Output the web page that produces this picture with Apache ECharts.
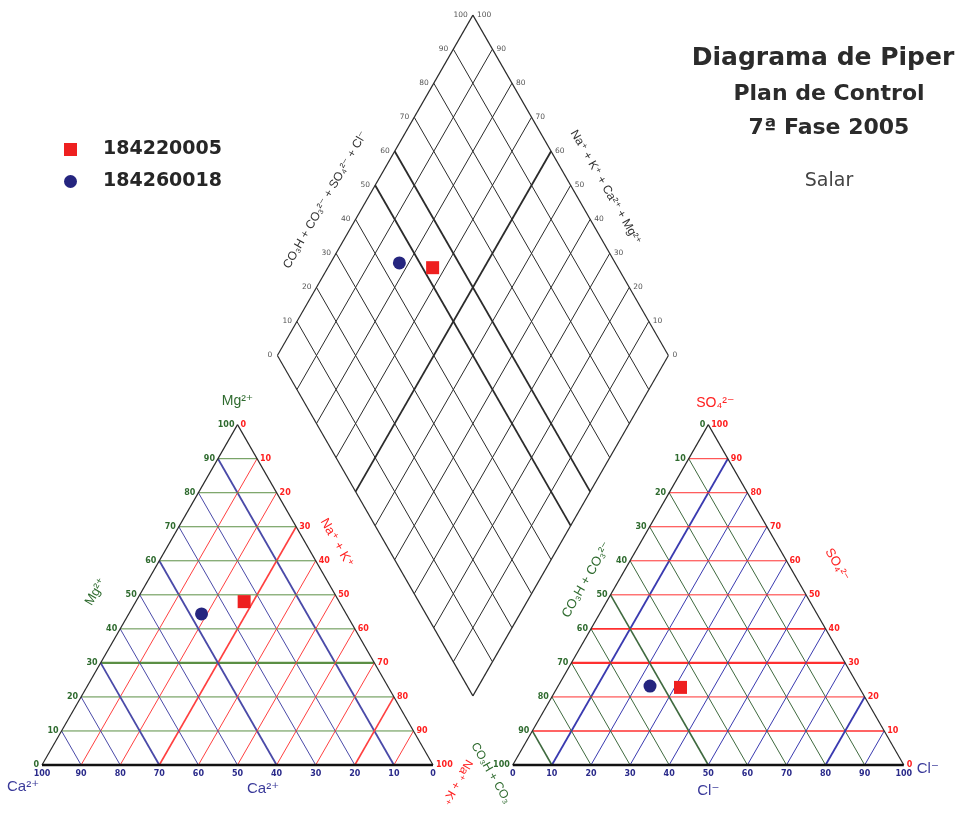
<!DOCTYPE html>
<html><head><meta charset="utf-8">
<script src="https://cdn.jsdelivr.net/npm/echarts@6/dist/echarts.min.js"></script>
<style>html,body{margin:0;padding:0;background:#fff}#c{width:962px;height:813px}</style>
</head><body><div id="c"></div>
<script>
// ---------- data ----------
const sampleNames = ['184220005', '184260018'];
// cation triangle (%)
const cationCa  = [24.3, 37.0];
const cationMg  = [48.0, 44.4];
const cationNaK = [27.7, 18.6];
// anion triangle (%)
const anionHCO3 = [45.7, 53.3];
const anionSO4  = [22.8, 23.2];
const anionCl   = [31.5, 23.5];
// diamond: value read on the upper-left scale and on the upper-right scale
const diamondLeftScale  = [52.6, 44.8];
const diamondRightScale = [73.2, 82.4];
// tick labels
const tickValues = [0, 10, 20, 30, 40, 50, 60, 70, 80, 90, 100];
const gridValues = [10, 20, 30, 40, 50, 60, 70, 80, 90];

// ---------- geometry helpers (data -> plane units) ----------
const S = Math.sqrt(3) / 2;
const ANION_X = 120.4, DIA_X = 110.2, DIA_Y = 17.6;
function cat(ca, mg, nak) { const t = ca + mg + nak; return [100 * (nak + mg / 2) / t, 100 * mg * S / t]; }
function an(hco3, so4, cl) { const t = hco3 + so4 + cl; return [ANION_X + 100 * (cl + so4 / 2) / t, 100 * so4 * S / t]; }
function dia(p, q) { return [DIA_X + 0.5 * (p - q), DIA_Y + S * (p + q)]; }

// ---------- styles ----------
const C = {
  gL: '#5b8f45', bL: '#4a4aa8', rL: '#ff4040',
  gR: '#3f6a3f', bR: '#3a3ab0', rR: '#ff3030',
  edge: '#2a2a2a', base: '#111111', dia: '#2b2b2b',
  tGreen: '#2f6b2f', tRed: '#ff2020', tNavy: '#2a2a8a', tGray: '#555555'
};

// ---------- grid segments ----------
const segs = [];
function seg(a, b, color, width) { segs.push({ a, b, color, width }); }
gridValues.forEach(k => {
  // cation triangle
  seg(cat(100 - k, k, 0), cat(0, k, 100 - k), C.gL, k === 30 ? 2.2 : 1);
  seg(cat(k, 0, 100 - k), cat(k, 100 - k, 0), C.bL, [10, 40, 70].includes(k) ? 1.8 : 1);
  seg(cat(100 - k, 0, k), cat(0, 100 - k, k), C.rL, [30, 80].includes(k) ? 1.6 : 1);
  // anion triangle
  seg(an(100 - k, k, 0), an(0, k, 100 - k), C.rR, k === 30 ? 2.2 : ([10, 40].includes(k) ? 1.6 : 1));
  seg(an(k, 0, 100 - k), an(k, 100 - k, 0), C.gR, [50, 90].includes(k) ? 1.6 : 1);
  seg(an(100 - k, 0, k), an(0, 100 - k, k), C.bR, [10, 80].includes(k) ? 1.8 : 1);
  // diamond
  seg(dia(k, 0), dia(k, 100), C.dia, [50, 60].includes(k) ? 1.8 : 1);
  seg(dia(0, k), dia(100, k), C.dia, k === 60 ? 1.8 : 1);
});
// outlines
seg(cat(100, 0, 0), cat(0, 100, 0), C.edge, 1.2);
seg(cat(0, 100, 0), cat(0, 0, 100), C.edge, 1.2);
seg(cat(100, 0, 0), cat(0, 0, 100), C.base, 2.6);
seg(an(100, 0, 0), an(0, 100, 0), C.edge, 1.2);
seg(an(0, 100, 0), an(0, 0, 100), C.edge, 1.2);
seg(an(100, 0, 0), an(0, 0, 100), C.base, 2.6);
seg(dia(0, 0), dia(0, 100), C.dia, 1.2);
seg(dia(0, 100), dia(100, 100), C.dia, 1.2);
seg(dia(100, 100), dia(100, 0), C.dia, 1.2);
seg(dia(100, 0), dia(0, 0), C.dia, 1.2);

// ---------- labels ----------
const TICK_FONT = 'bold 8px "DejaVu Sans"';
const DIA_FONT = '7.5px "DejaVu Sans"';
const NAME_FONT = s => s + 'px "Liberation Sans", "DejaVu Sans", sans-serif';
const labels = [];
function lab(at, text, color, font, align, dx, dy, rot) {
  labels.push({ at, text: String(text), color, font, align: align || 'center', dx: dx || 0, dy: dy || 0, rot: rot || 0 });
}
tickValues.forEach(k => {
  lab(cat(100 - k, k, 0), k, C.tGreen, TICK_FONT, 'right', -3, 0);
  lab(cat(0, 100 - k, k), k, C.tRed, TICK_FONT, 'left', 3, 0);
  lab(cat(k, 0, 100 - k), k, C.tNavy, TICK_FONT, 'center', 0, 9);
  lab(an(k, 100 - k, 0), k, C.tGreen, TICK_FONT, 'right', -3, 0);
  lab(an(0, k, 100 - k), k, C.tRed, TICK_FONT, 'left', 3, 0);
  lab(an(100 - k, 0, k), k, C.tNavy, TICK_FONT, 'center', 0, 9);
  lab(dia(k, 100), k, C.tGray, DIA_FONT, 'right', -5, 0);
  lab(dia(100, k), k, C.tGray, DIA_FONT, 'left', 4, 0);
});
const R60 = Math.PI / 3;
// cation triangle names
lab(cat(0, 100, 0), 'Mg²⁺', C.tGreen, NAME_FONT(14), 'center', 0, -24);
lab(cat(50, 50, 0), 'Mg²⁺', C.tGreen, NAME_FONT(13), 'center', -44, -3, R60);
lab(cat(0, 60, 40), 'Na⁺ + K⁺', C.tRed, NAME_FONT(13), 'center', 21, -18, -R60);
lab(cat(100, 0, 0), 'Ca²⁺', '#3a3a9a', NAME_FONT(15), 'center', -19, 22);
lab(cat(45, 0, 55), 'Ca²⁺', '#3a3a9a', NAME_FONT(15), 'center', 6, 24);
lab(cat(0, 0, 100), 'Na⁺ + K⁺', C.tRed, NAME_FONT(12), 'center', 24, 17, -2 * R60);
// anion triangle names
lab(an(0, 100, 0), 'SO₄²⁻', C.tRed, NAME_FONT(14), 'center', 7, -22);
lab(an(0, 50, 50), 'SO₄²⁻', C.tRed, NAME_FONT(13), 'center', 31, -30, -R60);
lab(an(50, 50, 0), 'CO₃H + CO₃²⁻', C.tGreen, NAME_FONT(13), 'center', -24, -15, R60);
lab(an(50, 0, 50), 'Cl⁻', '#3a3a9a', NAME_FONT(15), 'center', 0, 26);
lab(an(0, 0, 100), 'Cl⁻', '#3a3a9a', NAME_FONT(15), 'center', 24, 4);
lab(an(100, 0, 0), 'CO₃H + CO₃', C.tGreen, NAME_FONT(12), 'center', -22, 8, -R60);
// diamond names
lab(dia(46, 100), 'CO₃H + CO₃²⁻ + SO₄²⁻ + Cl⁻', '#333', NAME_FONT(12), 'center', -42, 1, R60);
lab(dia(100, 50), 'Na⁺ + K⁺ + Ca²⁺ + Mg²⁺', '#333', NAME_FONT(12), 'center', 35, 2, -R60);

// ---------- points ----------
function samplePoints(i) {
  return [
    cat(cationCa[i], cationMg[i], cationNaK[i]),
    an(anionHCO3[i], anionSO4[i], anionCl[i]),
    dia(diamondLeftScale[i], diamondRightScale[i])
  ];
}

const chart = echarts.init(document.getElementById('c'), null, { renderer: 'canvas' });
chart.setOption({
  animation: false,
  backgroundColor: '#ffffff',
  grid: { left: 0, right: 0, top: 0, bottom: 0 },
  xAxis: { type: 'value', min: -10.742, max: 235.29, show: false },
  yAxis: { type: 'value', min: -12.214, max: 194.66, show: false },
  legend: {
    orient: 'vertical', left: 59, top: 135, itemWidth: 13, itemHeight: 13, itemGap: 13,
    selectedMode: false, data: sampleNames,
    textStyle: { fontFamily: 'DejaVu Sans', fontWeight: 'bold', fontSize: 19, color: '#262626', lineHeight: 19, padding: [0, 0, 0, 21] }
  },
  graphic: [
    { type: 'text', x: 823, y: 58, style: { text: 'Diagrama de Piper', font: 'bold 25px "DejaVu Sans"', fill: '#2b2b2b', align: 'center', verticalAlign: 'middle' } },
    { type: 'text', x: 829, y: 94, style: { text: 'Plan de Control', font: 'bold 22px "DejaVu Sans"', fill: '#2b2b2b', align: 'center', verticalAlign: 'middle' } },
    { type: 'text', x: 829, y: 128, style: { text: '7ª Fase 2005', font: 'bold 22px "DejaVu Sans"', fill: '#2b2b2b', align: 'center', verticalAlign: 'middle' } },
    { type: 'text', x: 829, y: 181, style: { text: 'Salar', font: '19px "DejaVu Sans"', fill: '#444', align: 'center', verticalAlign: 'middle' } }
  ],
  series: [
    {
      type: 'custom', name: 'grid', silent: true, clip: false, z: 1,
      encode: { x: [0, 2], y: [1, 3] },
      data: segs.map(s => [s.a[0], s.a[1], s.b[0], s.b[1]]),
      renderItem: (params, api) => {
        const s = segs[params.dataIndex];
        const p1 = api.coord([api.value(0), api.value(1)]);
        const p2 = api.coord([api.value(2), api.value(3)]);
        return { type: 'line', shape: { x1: p1[0], y1: p1[1], x2: p2[0], y2: p2[1] }, style: { stroke: s.color, lineWidth: s.width } };
      }
    },
    {
      type: 'custom', name: 'labels', silent: true, clip: false, z: 2,
      encode: { x: 0, y: 1 },
      data: labels.map(l => l.at),
      renderItem: (params, api) => {
        const L = labels[params.dataIndex];
        const p = api.coord([api.value(0), api.value(1)]);
        return { type: 'text', x: p[0] + L.dx, y: p[1] + L.dy, rotation: L.rot,
          style: { text: L.text, font: L.font, fill: L.color, align: L.align, verticalAlign: 'middle' } };
      }
    },
    { type: 'scatter', name: sampleNames[0], symbol: 'rect', symbolSize: 13, z: 10,
      itemStyle: { color: '#ee2020', opacity: 1 }, data: samplePoints(0) },
    { type: 'scatter', name: sampleNames[1], symbol: 'circle', symbolSize: 13, z: 10,
      itemStyle: { color: '#25257f', opacity: 1 }, data: samplePoints(1) }
  ]
});
</script>
</body></html>
